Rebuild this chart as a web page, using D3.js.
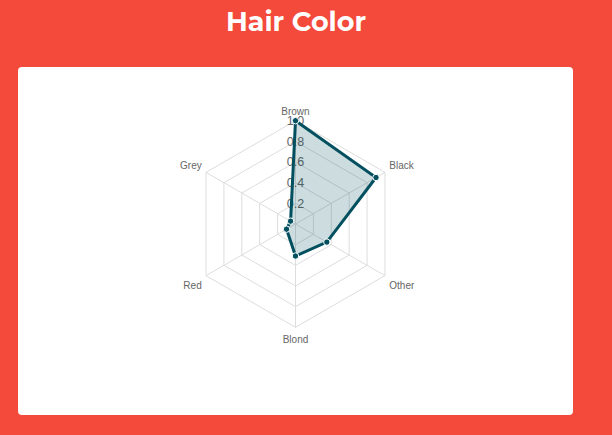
<!DOCTYPE html>
<html><head><meta charset="utf-8">
<script src="https://cdn.jsdelivr.net/npm/d3@7"></script>
<style>html,body{margin:0;padding:0;background:#F44A3C;}svg{display:block;}</style>
</head><body>
<svg id="c" width="612" height="435"></svg>
<script>
const title = "Hair Color";
const categories = ["Brown", "Black", "Other", "Blond", "Red", "Grey"];
const values = [1.0, 0.9, 0.35, 0.31, 0.1, 0.055];
const ticks = [0.2, 0.4, 0.6, 0.8, 1.0];

const svg = d3.select("#c");
svg.append("rect").attr("width",612).attr("height",435).attr("fill","#F44A3C");
svg.append("text").attr("x",296).attr("y",31).attr("text-anchor","middle")
  .attr("font-family","Montserrat, 'Open Sans', Lato, sans-serif").attr("font-weight",700)
  .attr("font-size",27).attr("fill","#fff").text(title);
svg.append("rect").attr("x",18).attr("y",67).attr("width",555).attr("height",348)
  .attr("rx",4).attr("fill","#fff");

const cx = 295.5, cy = 224, R = 103.3;
const r = d3.scaleLinear().domain([0,1]).range([0,R]);
const ang = d3.scalePoint().domain(categories).range([0, 2*Math.PI*(categories.length-1)/categories.length]);
const pt = (c, v) => [cx + r(v)*Math.sin(ang(c)), cy - r(v)*Math.cos(ang(c))];

const g = svg.append("g");
// grid rings
ticks.forEach(t => {
  g.append("path").attr("d", d3.line()(categories.map(c => pt(c,t))) + "Z")
   .attr("fill","none").attr("stroke","#ddd").attr("stroke-width",1);
});
// spokes
categories.forEach(c => {
  const [x,y] = pt(c,1);
  g.append("line").attr("x1",cx).attr("y1",cy).attr("x2",x).attr("y2",y)
   .attr("stroke","#ddd").attr("stroke-width",1);
});
// tick labels
ticks.forEach(t => {
  g.append("text").attr("x",cx).attr("y",cy - r(t)).attr("dy","0.35em")
   .attr("text-anchor","middle").attr("font-family","Liberation Sans, Arial, sans-serif")
   .attr("font-size",12.5).attr("fill","#666").text(t.toFixed(1));
});
// category labels
categories.forEach(c => {
  const a = ang(c);
  const s = Math.sin(a), co = Math.cos(a);
  const [x,y] = pt(c,1);
  const lx = x + 5*s;
  let ly = y - 5*co;
  ly += co > 0 ? -4.5 : 7.5;
  const anchor = Math.abs(s) < 0.01 ? "middle" : (s > 0 ? "start" : "end");
  g.append("text").attr("x",lx).attr("y",ly).attr("dy","0.35em").attr("text-anchor",anchor)
   .attr("font-family","Liberation Sans, Arial, sans-serif").attr("font-size",10)
   .attr("fill","#666").text(c);
});
// data polygon
const pts = categories.map((c,i) => pt(c, values[i]));
g.append("path").attr("d", d3.line()(pts) + "Z")
 .attr("fill","rgba(2,80,95,0.2)").attr("stroke","#02505F").attr("stroke-width",3)
 .attr("stroke-linejoin","miter");
g.selectAll("circle.p").data(pts).join("circle").attr("class","p")
 .attr("cx",d=>d[0]).attr("cy",d=>d[1]).attr("r",3.2)
 .attr("fill","#02505F").attr("stroke","#fff").attr("stroke-width",1);
</script>
</body></html>
